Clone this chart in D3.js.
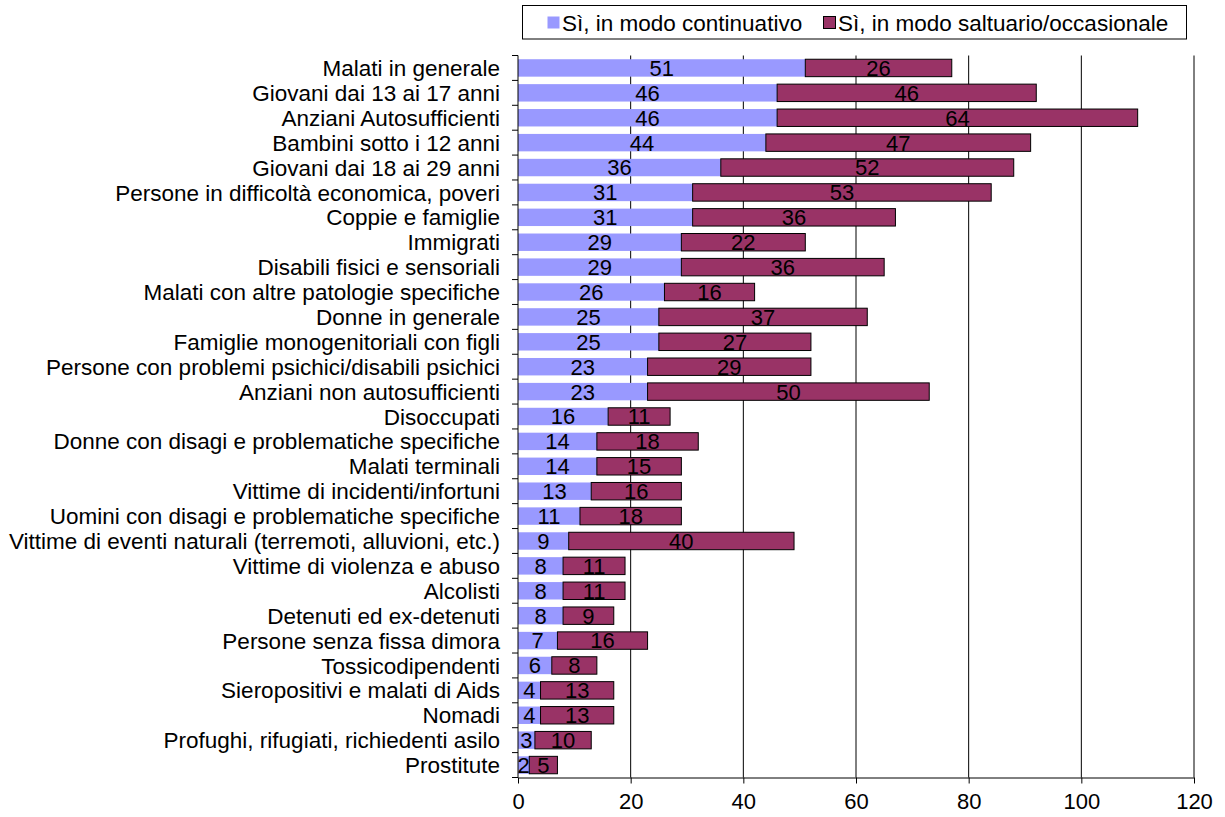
<!DOCTYPE html>
<html>
<head>
<meta charset="utf-8">
<script src="https://cdn.jsdelivr.net/npm/d3@7"></script>
<style>
  body { margin: 0; background: #fff; }
  text { font-family: "Liberation Sans", Arial, sans-serif; fill: #000; }
</style>
</head>
<body>
<svg width="1225" height="817"></svg>
<script>
const categories = [
  "Malati in generale",
  "Giovani dai 13 ai 17 anni",
  "Anziani Autosufficienti",
  "Bambini sotto i 12 anni",
  "Giovani dai 18 ai 29 anni",
  "Persone in difficoltà economica, poveri",
  "Coppie e famiglie",
  "Immigrati",
  "Disabili fisici e sensoriali",
  "Malati con altre patologie specifiche",
  "Donne in generale",
  "Famiglie monogenitoriali con figli",
  "Persone con problemi psichici/disabili psichici",
  "Anziani non autosufficienti",
  "Disoccupati",
  "Donne con disagi e problematiche specifiche",
  "Malati terminali",
  "Vittime di incidenti/infortuni",
  "Uomini con disagi e problematiche specifiche",
  "Vittime di eventi naturali (terremoti, alluvioni, etc.)",
  "Vittime di violenza e abuso",
  "Alcolisti",
  "Detenuti ed ex-detenuti",
  "Persone senza fissa dimora",
  "Tossicodipendenti",
  "Sieropositivi e malati di Aids",
  "Nomadi",
  "Profughi, rifugiati, richiedenti asilo",
  "Prostitute"
];
const continuativo = [51, 46, 46, 44, 36, 31, 31, 29, 29, 26, 25, 25, 23, 23, 16, 14, 14, 13, 11, 9, 8, 8, 8, 7, 6, 4, 4, 3, 2];
const saltuario = [26, 46, 64, 47, 52, 53, 36, 22, 36, 16, 37, 27, 29, 50, 11, 18, 15, 16, 18, 40, 11, 11, 9, 16, 8, 13, 13, 10, 5];
const seriesNames = ["Sì, in modo continuativo", "Sì, in modo saltuario/occasionale"];
const xTicks = [0, 20, 40, 60, 80, 100, 120];
const colors = ["#9999ff", "#993366"];

const svg = d3.select("svg");
const margin = { left: 518, right: 31, top: 55.5, bottom: 39.5 };
const W = 1225, H = 817;
const fs = 22.5;

const x = d3.scaleLinear().domain([0, 120]).range([margin.left, W - margin.right]);
const y = d3.scaleBand().domain(categories).range([margin.top, H - margin.bottom]).paddingInner(0.3).paddingOuter(0.15);

const rows = categories.map((c, i) => ({ cat: c, a: continuativo[i], b: saltuario[i] }));

// gridlines
svg.append("g").selectAll("line").data(xTicks.slice(1)).enter().append("line")
  .attr("x1", d => x(d)).attr("x2", d => x(d))
  .attr("y1", margin.top).attr("y2", H - margin.bottom)
  .attr("stroke", "#000").attr("stroke-width", 1);

// bars
const g = svg.append("g");
g.selectAll("rect.a").data(rows).enter().append("rect").attr("class", "a")
  .attr("x", x(0)).attr("y", d => y(d.cat))
  .attr("width", d => x(d.a) - x(0)).attr("height", y.bandwidth())
  .attr("fill", colors[0]);
g.selectAll("rect.b").data(rows).enter().append("rect").attr("class", "b")
  .attr("x", d => x(d.a)).attr("y", d => y(d.cat))
  .attr("width", d => x(d.a + d.b) - x(d.a)).attr("height", y.bandwidth())
  .attr("fill", colors[1]).attr("stroke", "#000").attr("stroke-width", 1);

// data labels
g.selectAll("text.la").data(rows).enter().append("text")
  .attr("x", d => x(d.a / 2)).attr("y", d => y(d.cat) + y.bandwidth() / 2)
  .attr("dy", "0.36em").attr("text-anchor", "middle").attr("font-size", 22)
  .text(d => d.a);
g.selectAll("text.lb").data(rows).enter().append("text")
  .attr("x", d => x(d.a + d.b / 2)).attr("y", d => y(d.cat) + y.bandwidth() / 2)
  .attr("dy", "0.36em").attr("text-anchor", "middle").attr("font-size", 22)
  .text(d => d.b);

// y axis
const yAxis = svg.append("g").attr("transform", `translate(${x(0)},0)`);
yAxis.append("line").attr("x1", 0).attr("x2", 0)
  .attr("y1", margin.top).attr("y2", H - margin.bottom).attr("stroke", "#000");
yAxis.selectAll("line.t").data(d3.range(categories.length + 1)).enter().append("line")
  .attr("x1", -6).attr("x2", 0)
  .attr("y1", i => margin.top + i * (H - margin.bottom - margin.top) / categories.length)
  .attr("y2", i => margin.top + i * (H - margin.bottom - margin.top) / categories.length)
  .attr("stroke", "#000");
yAxis.selectAll("text").data(categories).enter().append("text")
  .attr("x", -18).attr("y", d => y(d) + y.bandwidth() / 2).attr("dy", "0.36em")
  .attr("text-anchor", "end").attr("font-size", fs)
  .text(d => d);

// x axis
const xAxis = svg.append("g").attr("transform", `translate(0,${H - margin.bottom})`)
  .call(d3.axisBottom(x).tickValues(xTicks).tickSize(6).tickPadding(10).tickSizeOuter(0));
xAxis.select(".domain").attr("stroke", "#000");
xAxis.selectAll(".tick line").attr("stroke", "#000");
xAxis.selectAll("text").attr("font-size", 22).attr("font-family", "Liberation Sans, Arial, sans-serif").attr("fill", "#000");

// legend
const leg = svg.append("g");
leg.append("rect").attr("x", 522.5).attr("y", 5.5).attr("width", 664).attr("height", 33.5)
  .attr("fill", "#fff").attr("stroke", "#000");
const items = [{ x: 547, name: seriesNames[0], c: colors[0] }, { x: 823, name: seriesNames[1], c: colors[1] }];
items.forEach((it, i) => {
  leg.append("rect").attr("x", it.x + 0.5).attr("y", 16.5).attr("width", 12).attr("height", 12)
    .attr("fill", it.c).attr("stroke", i ? "#000" : "none");
  leg.append("text").attr("x", it.x + 15).attr("y", 23).attr("dy", "0.36em")
    .attr("font-size", fs).text(it.name);
});
</script>
</body>
</html>
